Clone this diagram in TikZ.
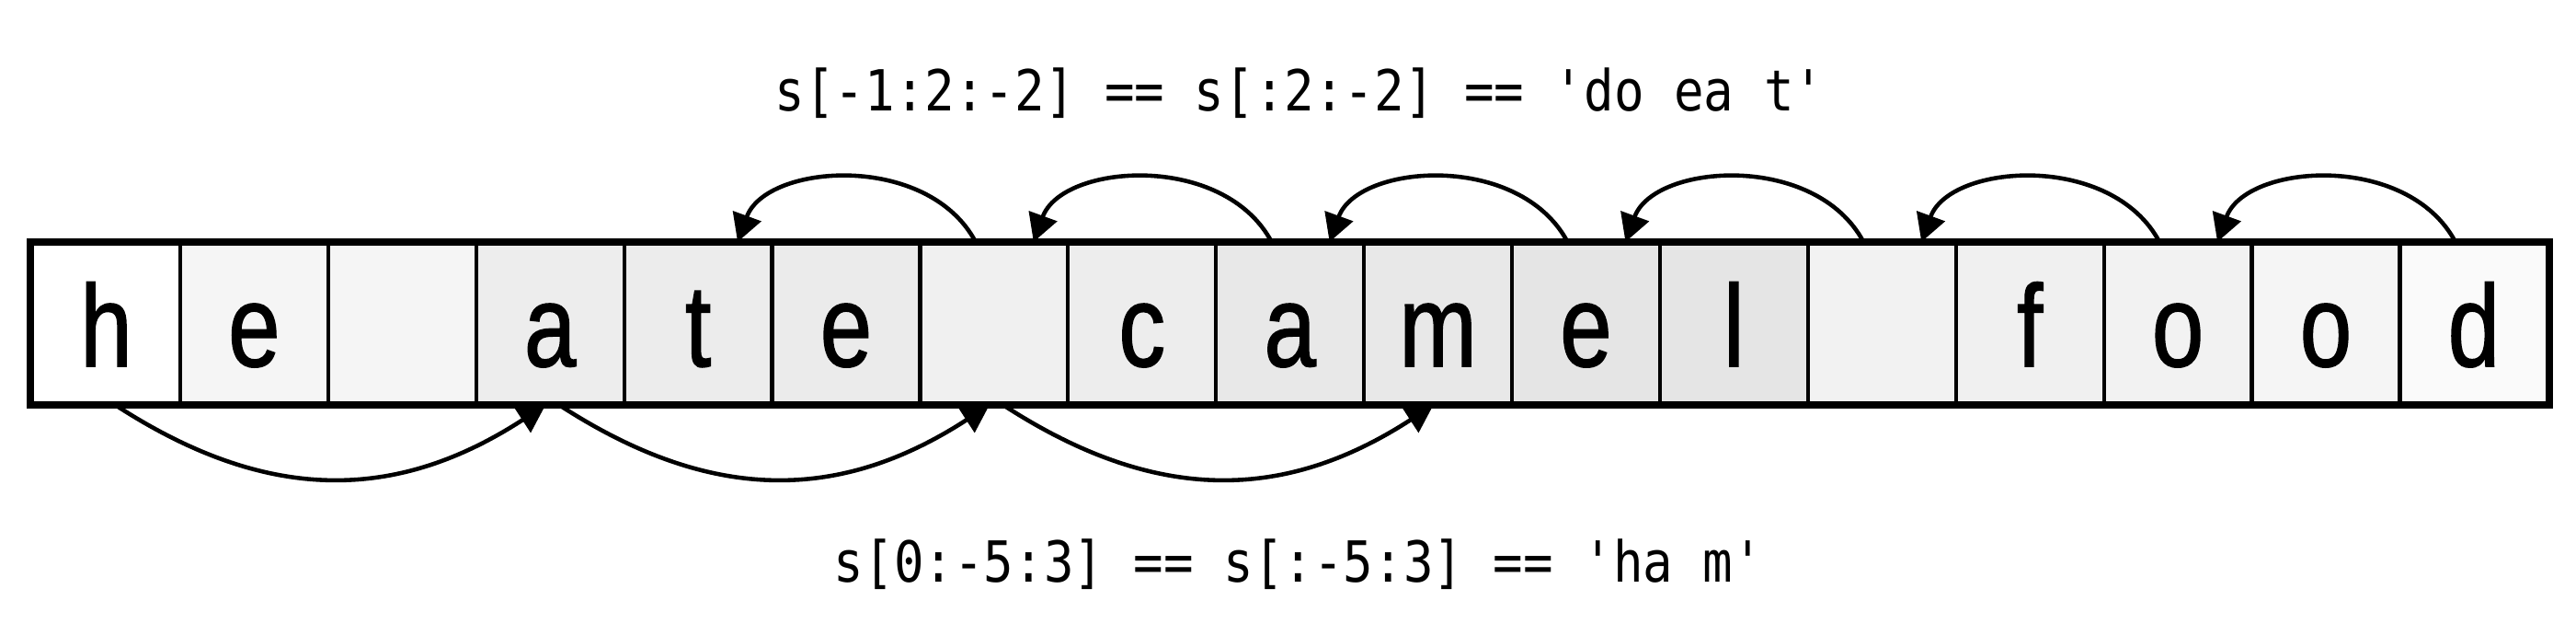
\documentclass[tikz,border=0pt]{standalone}
\usepackage{fontspec}
\usepackage{tikz}
\usetikzlibrary{arrows.meta}
\newfontfamily\cellfont[FakeStretch=0.8,FakeBold=1.2]{Liberation Sans}
\newfontfamily\codefont[FakeStretch=0.88,Ligatures=TeXOff]{DejaVu Sans Mono}

\begin{document}
\begin{tikzpicture}[
  cell/.style={draw, line width=1.2pt, minimum width=1.609cm, minimum height=1.73cm, inner sep=0pt,
    text height=0.93cm, text depth=0pt, font=\cellfont\fontsize{36}{40}\selectfont},
  frame/.style={draw, line width=2pt},
  code/.style={anchor=base, inner sep=0pt, font=\codefont\fontsize{17.5}{20}\selectfont},
  hop/.style={-{Triangle[length=3mm, width=3.2mm]}, line width=1.3pt},
  back/.style={hop, out=118, in=70, out looseness=1.1, in looseness=0.9},
]
  \useasboundingbox (0,0) rectangle (28.01,6.89);

  \node[cell, fill=white]   (c0)  at (1.1545,3.375)  {h};
  \node[cell, fill=gray!8]  (c1)  at (2.7635,3.375)  {e};
  \node[cell, fill=gray!8]  (c2)  at (4.3725,3.375)  {~};
  \node[cell, fill=gray!14] (c3)  at (5.9815,3.375)  {a};
  \node[cell, fill=gray!15] (c4)  at (7.5905,3.375)  {t};
  \node[cell, fill=gray!16] (c5)  at (9.1995,3.375)  {e};
  \node[cell, fill=gray!12] (c6)  at (10.8085,3.375) {~};
  \node[cell, fill=gray!14] (c7)  at (12.4175,3.375) {c};
  \node[cell, fill=gray!18] (c8)  at (14.0265,3.375) {a};
  \node[cell, fill=gray!18] (c9)  at (15.6355,3.375) {m};
  \node[cell, fill=gray!20] (c10) at (17.2445,3.375) {e};
  \node[cell, fill=gray!20] (c11) at (18.8535,3.375) {l};
  \node[cell, fill=gray!10] (c12) at (20.4625,3.375) {~};
  \node[cell, fill=gray!12] (c13) at (22.0715,3.375) {f};
  \node[cell, fill=gray!10] (c14) at (23.6805,3.375) {o};
  \node[cell, fill=gray!8]  (c15) at (25.2895,3.375) {o};
  \node[cell, fill=gray!4]  (c16) at (26.8985,3.375) {d};
  \draw[frame] (c0.north west) rectangle (c16.south east);

  \node[code] (upper) at (14.13,5.69) {s[-1:2:-2] == s[:2:-2] == 'do ea t'};
  \node[code] (lower) at (14.12,0.57) {s[0:-5:3] == s[:-5:3] == 'ha m'};

  % step -2, from the end
  \draw[back] ([xshift=-2mm]c16.north) to ([xshift=4.3mm]c14.north);
  \draw[back] ([xshift=-2mm]c14.north) to ([xshift=4.3mm]c12.north);
  \draw[back] ([xshift=-2mm]c12.north) to ([xshift=4.3mm]c10.north);
  \draw[back] ([xshift=-2mm]c10.north) to ([xshift=4.3mm]c8.north);
  \draw[back] ([xshift=-2mm]c8.north) to ([xshift=4.3mm]c6.north);
  \draw[back] ([xshift=-2mm]c6.north) to ([xshift=4.3mm]c4.north);

  % step 3, from the start
  \draw[hop] ([xshift=1mm]c0.south) to[out=-33, in=-147, looseness=1.07] ([xshift=-0.5mm]c3.south);
  \draw[hop] ([xshift=1mm]c3.south) to[out=-33, in=-147, looseness=1.07] ([xshift=-0.5mm]c6.south);
  \draw[hop] ([xshift=1mm]c6.south) to[out=-33, in=-147, looseness=1.07] ([xshift=-0.5mm]c9.south);
\end{tikzpicture}
\end{document}
